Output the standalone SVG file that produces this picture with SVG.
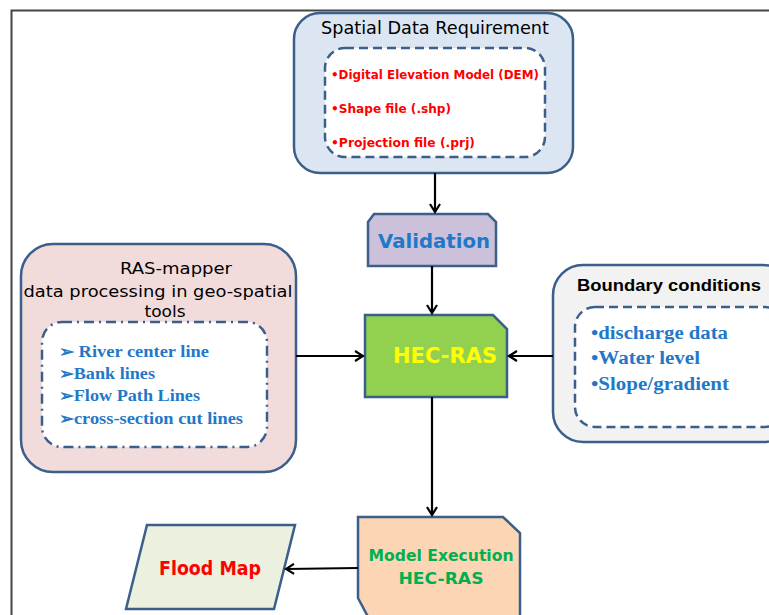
<svg xmlns="http://www.w3.org/2000/svg" width="769" height="615" viewBox="0 0 769 615">
<defs>
<marker id="arr" markerWidth="12" markerHeight="12" refX="10" refY="6" orient="auto" markerUnits="userSpaceOnUse">
<path d="M2,1 L10,6 L2,11" fill="none" stroke="#000" stroke-width="2.2"/>
</marker>
</defs>
<style>
.node{stroke:#3b5f8a;stroke-width:2.5}
.dash{fill:#fff;stroke:#3b5f8a;stroke-width:2.5;stroke-dasharray:9 5}
.dashdot{fill:#fff;stroke:#3b5f8a;stroke-width:2.5;stroke-dasharray:10 5 2 5}
.comic{font-family:"DejaVu Sans","Liberation Sans",sans-serif}
.serif{font-family:"Liberation Serif","DejaVu Serif",serif;font-weight:bold;fill:#1f78c8}
.conn{stroke:#000;stroke-width:2.2;fill:none;marker-end:url(#arr)}
</style>
<rect x="0" y="0" width="769" height="615" fill="#fff"/>
<path d="M11.5,615 V10.5 H769" fill="none" stroke="#444" stroke-width="2"/>

<g id="spatial">
<rect class="node" x="294" y="13" width="279" height="160" rx="26" fill="#dce6f2"/>
<rect class="dash" x="325" y="48" width="220" height="109" rx="20"/>
<text class="comic" x="435" y="34" font-size="17" text-anchor="middle" textLength="228" lengthAdjust="spacingAndGlyphs">Spatial Data Requirement</text>
<g class="comic" font-size="13" font-weight="bold" fill="#ff0000">
<text x="331" y="79" textLength="208" lengthAdjust="spacingAndGlyphs">•Digital Elevation Model (DEM)</text>
<text x="331" y="113" textLength="120" lengthAdjust="spacingAndGlyphs">•Shape file (.shp)</text>
<text x="331" y="147" textLength="144" lengthAdjust="spacingAndGlyphs">•Projection file (.prj)</text>
</g>
</g>

<g id="validation">
<path class="node" d="M368,222 L374,214 H488 L496,222 V266 H368 Z" fill="#ccc1da"/>
<text class="comic" x="434" y="248" font-size="20" font-weight="bold" fill="#1f78c8" text-anchor="middle" textLength="112" lengthAdjust="spacingAndGlyphs">Validation</text>
</g>

<g id="hecras">
<path class="node" d="M365,315 H493 L507,329 V397 H365 Z" fill="#92d050"/>
<text class="comic" x="445" y="363" font-size="22" font-weight="bold" fill="#ffff00" text-anchor="middle" textLength="104" lengthAdjust="spacingAndGlyphs">HEC-RAS</text>
</g>

<g id="rasmapper">
<rect class="node" x="21" y="244" width="275" height="228" rx="32" fill="#f2dcdb"/>
<rect class="dashdot" x="42" y="322" width="225" height="125" rx="20"/>
<g class="comic" font-size="16" fill="#000">
<text x="176" y="274" text-anchor="middle" textLength="112" lengthAdjust="spacingAndGlyphs">RAS-mapper</text>
<text x="158" y="297" text-anchor="middle" textLength="269" lengthAdjust="spacingAndGlyphs">data processing in geo-spatial</text>
<text x="165" y="317" text-anchor="middle" textLength="41" lengthAdjust="spacingAndGlyphs">tools</text>
</g>
<g class="serif" font-size="16">
<text x="59" y="357" textLength="150" lengthAdjust="spacingAndGlyphs">➢ River center line</text>
<text x="59" y="379" textLength="96" lengthAdjust="spacingAndGlyphs">➢Bank lines</text>
<text x="59" y="401" textLength="141" lengthAdjust="spacingAndGlyphs">➢Flow Path Lines</text>
<text x="59" y="424" textLength="184" lengthAdjust="spacingAndGlyphs">➢cross-section cut lines</text>
</g>
</g>

<g id="boundary">
<rect class="node" x="553" y="265" width="240" height="177" rx="30" fill="#f2f2f2"/>
<rect class="dash" x="575" y="307" width="210" height="120" rx="20"/>
<text x="577" y="291" font-family="Liberation Sans, Arial, sans-serif" font-size="16" font-weight="bold" fill="#000" textLength="184" lengthAdjust="spacingAndGlyphs">Boundary conditions</text>
<g class="serif" font-size="18">
<text x="591" y="339" textLength="137" lengthAdjust="spacingAndGlyphs">•discharge data</text>
<text x="591" y="364" textLength="109" lengthAdjust="spacingAndGlyphs">•Water level</text>
<text x="591" y="390" textLength="138" lengthAdjust="spacingAndGlyphs">•Slope/gradient</text>
</g>
</g>

<g id="execution">
<path class="node" d="M358,517 H503 L520,533 V630 H375 L358,598 Z" fill="#fcd5b5"/>
<g class="comic" font-size="16" font-weight="bold" fill="#00b050" text-anchor="middle">
<text x="441" y="561" textLength="145" lengthAdjust="spacingAndGlyphs">Model Execution</text>
<text x="441" y="584" textLength="85" lengthAdjust="spacingAndGlyphs">HEC-RAS</text>
</g>
</g>

<g id="floodmap">
<path class="node" d="M147,525 H295 L274,609 H126 Z" fill="#ebf1de"/>
<text class="comic" x="210" y="575" font-size="19" font-weight="bold" fill="#ff0000" text-anchor="middle" textLength="102" lengthAdjust="spacingAndGlyphs">Flood Map</text>
</g>

<g id="connectors">
<line class="conn" x1="435" y1="173" x2="435" y2="212"/>
<line class="conn" x1="432" y1="266" x2="432" y2="313"/>
<line class="conn" x1="296" y1="356" x2="363" y2="356"/>
<line class="conn" x1="553" y1="356" x2="509" y2="356"/>
<line class="conn" x1="432" y1="397" x2="432" y2="515"/>
<line class="conn" x1="358" y1="568" x2="286" y2="569"/>
</g>
</svg>
